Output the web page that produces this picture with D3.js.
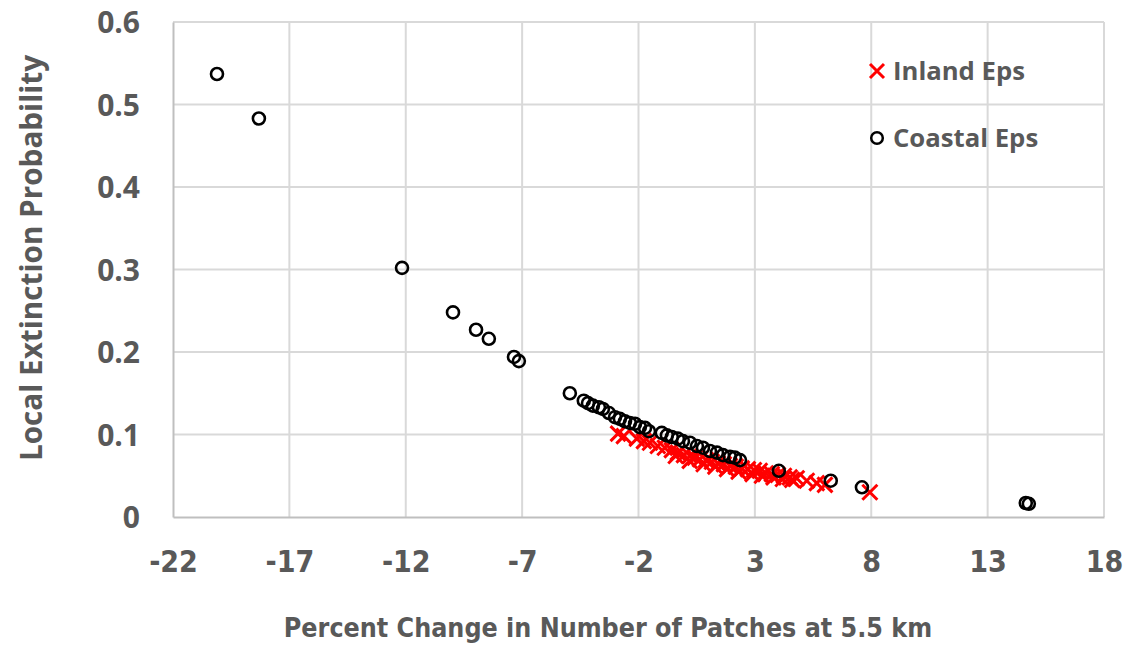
<!DOCTYPE html>
<html>
<head>
<meta charset="utf-8">
<script src="https://cdn.jsdelivr.net/npm/d3@7"></script>
<style>
    html, body { margin: 0; padding: 0; background: #fff; }
    svg { display: block; }
</style>
</head>
<body>
<div id="chart"></div>
<script>

// Tick values
const xTicks = [ -22, -17, -12, -7, -2, 3, 8, 13, 18 ];
const yTicks = [ 0, 0.1, 0.2, 0.3, 0.4, 0.5, 0.6 ];

// Inland Eps  (percent change, extinction probability)
const inlandX = [ -2.88, -2.63, -2.07, -1.77, -1.51, -1.17, -0.87, -0.57, -0.31, -0.05,
                  0.21, 0.42, 0.64, 0.90, 1.15, 1.41, 1.67, 1.93, 2.18, 2.44,
                  2.70, 2.96, 3.21, 3.47, 3.73, 3.99, 4.25, 4.50, 4.80, 5.23,
                  5.66, 6.01, 7.94,
                  -0.4, 0.2, 0.8, 1.3, 1.8, 2.3, 2.9, 3.3, 3.8, 4.2, 4.6 ];
const inlandY = [ 0.101, 0.098, 0.095, 0.092, 0.090, 0.086, 0.084, 0.081, 0.078, 0.075,
                  0.074, 0.072, 0.070, 0.069, 0.067, 0.065, 0.064, 0.062, 0.061, 0.059,
                  0.058, 0.057, 0.056, 0.053, 0.052, 0.051, 0.050, 0.048, 0.047, 0.044,
                  0.041, 0.039, 0.030,
                  0.074, 0.068, 0.064, 0.061, 0.058, 0.055, 0.052, 0.050, 0.048, 0.046, 0.045 ];

// Coastal Eps
const coastalX = [ -20.11, -18.31, -12.16, -9.97, -8.98, -8.43, -7.35, -7.14, -4.95, -4.35,
                   -4.17, -3.96, -3.70, -3.53, -3.27, -3.01, -2.80, -2.58, -2.37, -2.15,
                   -1.94, -1.72, -1.55, -1.00, -0.78, -0.57, -0.31, -0.09, 0.21, 0.51,
                   0.77, 1.07, 1.37, 1.63, 1.93, 2.14, 2.36, 4.03, 6.26, 7.60,
                   14.64, 14.77 ];
const coastalY = [ 0.537, 0.483, 0.302, 0.248, 0.227, 0.216, 0.194, 0.189, 0.150, 0.141,
                   0.138, 0.135, 0.133, 0.131, 0.126, 0.121, 0.119, 0.116, 0.114, 0.113,
                   0.109, 0.108, 0.104, 0.102, 0.099, 0.097, 0.095, 0.092, 0.090, 0.086,
                   0.084, 0.080, 0.078, 0.075, 0.073, 0.072, 0.069, 0.056, 0.044, 0.036,
                   0.017, 0.016 ];

const seriesNames = [ 'Inland Eps', 'Coastal Eps' ];

const width = 1132, height = 647;
const margin = { top: 22, right: 28, bottom: 130, left: 173 };
const textColor = '#595959';
const gridColor = '#d9d9d9';

const svg = d3.select('#chart').append('svg')
    .attr('width', width)
    .attr('height', height);

const x = d3.scaleLinear()
    .domain([ -22, 18 ])
    .range([ margin.left, width - margin.right ]);

const y = d3.scaleLinear()
    .domain([ 0, 0.6 ])
    .range([ height - margin.bottom, margin.top ]);

// Gridlines
svg.append('g')
    .selectAll('line')
    .data(xTicks.slice(1))
    .join('line')
    .attr('x1', d => x(d)).attr('x2', d => x(d))
    .attr('y1', y(0)).attr('y2', y(0.6))
    .attr('stroke', gridColor)
    .attr('stroke-width', 2);

svg.append('g')
    .selectAll('line')
    .data(yTicks.slice(1))
    .join('line')
    .attr('x1', x(-22)).attr('x2', x(18))
    .attr('y1', d => y(d)).attr('y2', d => y(d))
    .attr('stroke', gridColor)
    .attr('stroke-width', 2);

// Axes
const xAxis = svg.append('g')
    .attr('transform', `translate(0,${ y(0) })`)
    .call(d3.axisBottom(x).tickValues(xTicks).tickSize(0).tickPadding(34).tickFormat(d => String(d)));

const yAxis = svg.append('g')
    .attr('transform', `translate(${ x(-22) },0)`)
    .call(d3.axisLeft(y).tickValues(yTicks).tickSize(0).tickPadding(33).tickFormat(d => d === 0 ? '0' : d3.format('.1f')(d)));

xAxis.select('.domain').attr('stroke', '#bfbfbf').attr('stroke-width', 2);
yAxis.select('.domain').attr('stroke', '#bfbfbf').attr('stroke-width', 2);

xAxis.selectAll('text')
    .attr('fill', textColor)
    .style('font-family', '"Liberation Sans Narrow", "DejaVu Sans Condensed", sans-serif')
    .style('font-weight', 'bold')
    .style('font-size', '30px');

yAxis.selectAll('text')
    .attr('fill', textColor)
    .attr('dy', '0.36em')
    .style('font-family', '"Open Sans", sans-serif')
    .style('font-weight', 'bold')
    .style('font-size', '30px');

// Axis titles
svg.append('text')
    .attr('x', 608)
    .attr('y', 637)
    .attr('text-anchor', 'middle')
    .attr('fill', textColor)
    .style('font-family', '"Liberation Sans Narrow", "DejaVu Sans Condensed", sans-serif')
    .style('font-weight', 'bold')
    .style('font-size', '26.6px')
    .text('Percent Change in Number of Patches at 5.5 km');

svg.append('text')
    .attr('transform', `translate(42,258) rotate(-90)`)
    .attr('text-anchor', 'middle')
    .attr('fill', textColor)
    .style('font-family', '"Open Sans", sans-serif')
    .style('font-weight', 'bold')
    .style('font-size', '29.7px')
    .text('Local Extinction Probability');

// Markers
const inland = d3.zip(inlandX, inlandY);
const coastal = d3.zip(coastalX, coastalY);

const cross = (sel, s) => sel.append('path')
    .attr('d', `M${ -s },${ -s }L${ s },${ s }M${ -s },${ s }L${ s },${ -s }`)
    .attr('stroke', '#ff0000')
    .attr('stroke-width', 3)
    .attr('fill', 'none');

svg.append('g')
    .selectAll('g')
    .data(inland)
    .join('g')
    .attr('transform', d => `translate(${ x(d[0]) },${ y(d[1]) })`)
    .each(function() { cross(d3.select(this), 7.5); });

svg.append('g')
    .selectAll('circle')
    .data(coastal)
    .join('circle')
    .attr('cx', d => x(d[0]))
    .attr('cy', d => y(d[1]))
    .attr('r', 6)
    .attr('fill', 'none')
    .attr('stroke', '#000')
    .attr('stroke-width', 2.6);

// Legend
const legend = svg.append('g').attr('transform', 'translate(877,0)');
const legendY = [ 71, 138 ];

cross(legend.append('g').attr('transform', `translate(0,${ legendY[0] })`), 7);
legend.append('circle')
    .attr('cx', 0).attr('cy', legendY[1])
    .attr('r', 5.8)
    .attr('fill', 'none')
    .attr('stroke', '#000')
    .attr('stroke-width', 2.5);

legend.selectAll('text')
    .data(seriesNames)
    .join('text')
    .attr('x', 16)
    .attr('y', (d, i) => legendY[i])
    .attr('dy', '0.36em')
    .attr('fill', textColor)
    .style('font-family', '"Open Sans", sans-serif')
    .style('font-weight', 'bold')
    .style('font-size', '25.7px')
    .text(d => d);

</script>
</body>
</html>
